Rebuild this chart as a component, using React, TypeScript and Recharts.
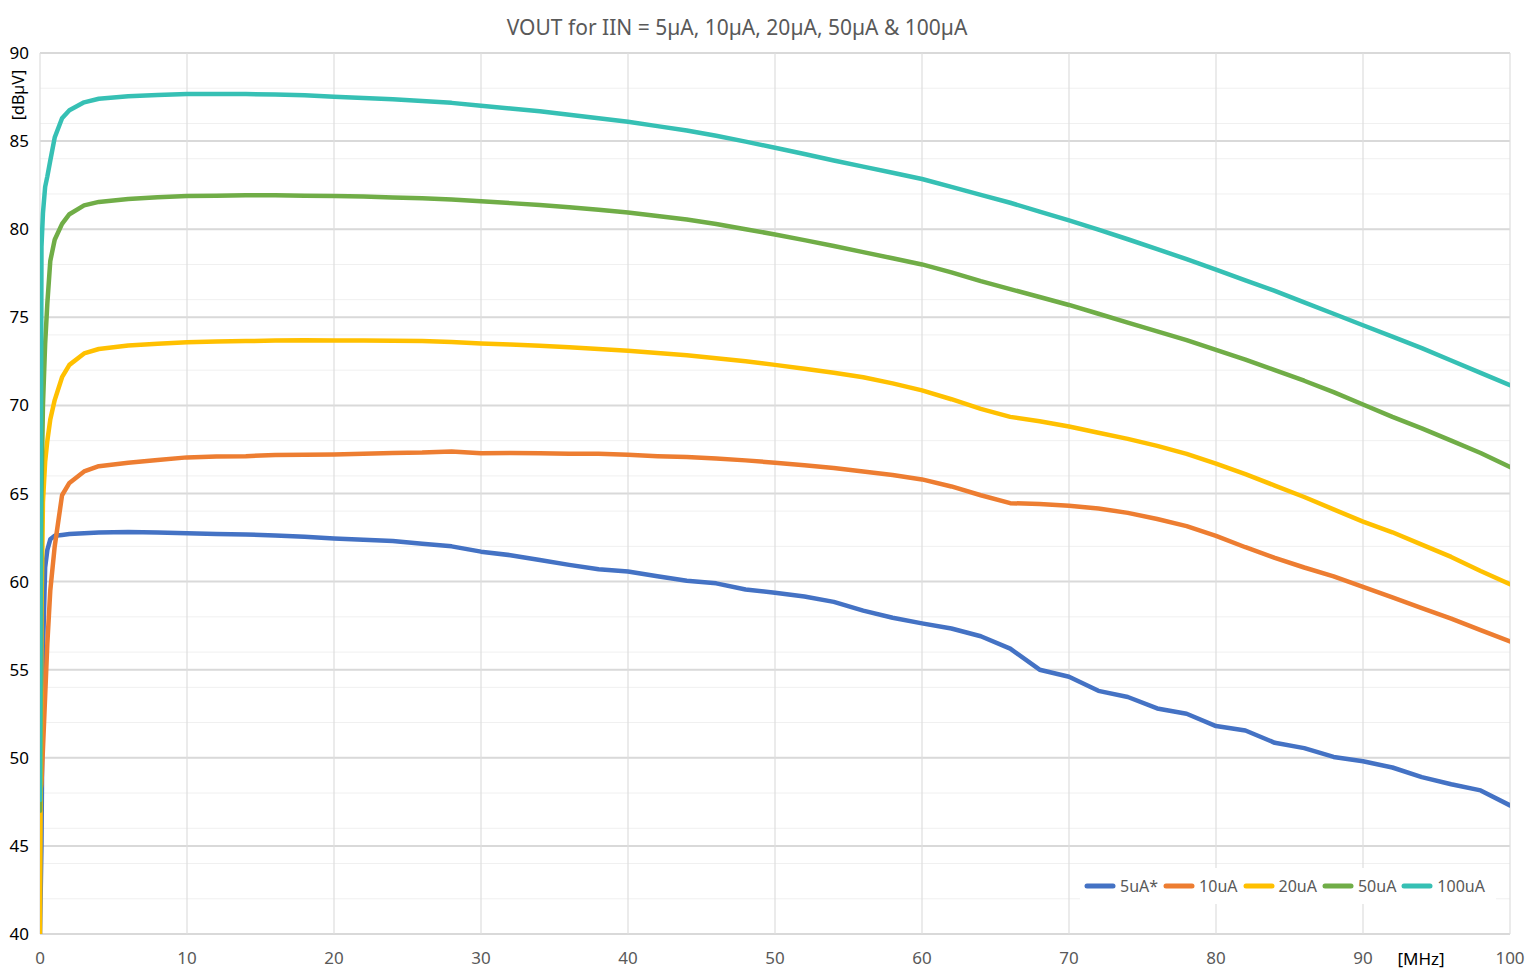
import React from "react";
import {
  CartesianGrid,
  Line,
  LineChart,
  XAxis,
  YAxis,
} from "recharts";

// frequency points [MHz]
const FREQ = [
  0, 0.1, 0.2, 0.35, 0.5, 0.7, 1, 1.5, 2, 3, 4, 6, 8,
  10, 12, 14, 16, 18, 20, 22, 24, 26, 28, 30, 32, 34, 36, 38, 40, 42, 44, 46, 48,
  50, 52, 54, 56, 58, 60, 62, 64, 66, 68, 70, 72, 74, 76, 78, 80, 82, 84, 86, 88,
  90, 92, 94, 96, 98, 100,
];

// VOUT [dBµV] per input current
const UA5 = [
  40, 45, 56, 60.8, 61.8, 62.4, 62.6, 62.65, 62.7, 62.75, 62.78, 62.82, 62.78,
  62.75, 62.7, 62.68, 62.62, 62.55, 62.45, 62.38, 62.3, 62.15, 62.0, 61.7, 61.5, 61.23, 60.95, 60.7,
  60.57, 60.3, 60.05, 59.9, 59.55, 59.37, 59.15, 58.85, 58.35, 57.95, 57.63, 57.34, 56.9, 56.2, 55.0,
  54.6, 53.8, 53.45, 52.8, 52.5, 51.8, 51.55, 50.85, 50.55, 50.05, 49.8, 49.45, 48.9, 48.5, 48.15, 47.3,
];
const UA10 = [
  48.0, 48.5, 50.5, 53.5, 56.5, 59.5, 62.0, 64.9, 65.6, 66.25, 66.55, 66.75, 66.9,
  67.05, 67.1, 67.12, 67.18, 67.2, 67.22, 67.25, 67.3, 67.32, 67.38, 67.28, 67.3, 67.28, 67.25, 67.25,
  67.2, 67.12, 67.07, 66.98, 66.88, 66.75, 66.6, 66.45, 66.25, 66.05, 65.8, 65.4, 64.9, 64.45, 64.4,
  64.3, 64.15, 63.9, 63.55, 63.15, 62.6, 61.95, 61.35, 60.8, 60.3, 59.7, 59.1, 58.5, 57.9, 57.25, 56.6,
];
const UA20 = [
  40, 58, 64.5, 66.8, 68.0, 69.2, 70.3, 71.6, 72.3, 72.95, 73.2, 73.4, 73.5,
  73.58, 73.62, 73.65, 73.68, 73.7, 73.68, 73.68, 73.67, 73.65, 73.6, 73.52, 73.45, 73.38, 73.3, 73.2,
  73.1, 72.98, 72.85, 72.68, 72.5, 72.3, 72.08, 71.85, 71.6, 71.25, 70.85, 70.35, 69.8, 69.35, 69.1,
  68.8, 68.45, 68.1, 67.7, 67.25, 66.7, 66.1, 65.45, 64.8, 64.1, 63.4, 62.8, 62.1, 61.4, 60.6, 59.85,
];
const UA50 = [
  47.0, 65.0, 70.0, 73.5, 75.8, 78.2, 79.4, 80.3, 80.85, 81.35, 81.55, 81.72, 81.82,
  81.88, 81.9, 81.92, 81.93, 81.9, 81.88, 81.85, 81.8, 81.75, 81.68, 81.58, 81.48, 81.38, 81.25, 81.1,
  80.95, 80.75, 80.55, 80.3, 80.0, 79.7, 79.38, 79.05, 78.7, 78.35, 78.0, 77.55, 77.05, 76.6, 76.15,
  75.7, 75.2, 74.7, 74.2, 73.7, 73.15, 72.6, 72.0, 71.4, 70.75, 70.05, 69.35, 68.7, 68.0, 67.3, 66.5,
];
const UA100 = [
  47.6, 79.0, 80.9, 82.4, 83.0, 83.9, 85.2, 86.3, 86.75, 87.2, 87.4, 87.55, 87.62,
  87.67, 87.68, 87.67, 87.65, 87.6, 87.52, 87.45, 87.37, 87.28, 87.17, 87.0, 86.85, 86.7, 86.5, 86.3,
  86.1, 85.85, 85.6, 85.3, 84.97, 84.62, 84.27, 83.9, 83.55, 83.2, 82.85, 82.4, 81.95, 81.5, 81.0,
  80.5, 79.97, 79.43, 78.87, 78.3, 77.7, 77.1, 76.5, 75.85, 75.2, 74.55, 73.9, 73.25, 72.55, 71.85, 71.15,
];

const SERIES = [
  { key: "ua5", name: "5uA*", values: UA5, color: "#4472C4" },
  { key: "ua10", name: "10uA", values: UA10, color: "#ED7D31" },
  { key: "ua20", name: "20uA", values: UA20, color: "#FFC000" },
  { key: "ua50", name: "50uA", values: UA50, color: "#70AD47" },
  { key: "ua100", name: "100uA", values: UA100, color: "#36C0B4" },
];

const X_TICKS = [0, 10, 20, 30, 40, 50, 60, 70, 80, 90, 100];
const Y_TICKS = [40, 45, 50, 55, 60, 65, 70, 75, 80, 85, 90];
const Y_MINOR = [
  40, 41, 42, 43, 44, 45, 46, 47, 48, 49, 50, 51, 52, 53, 54, 55, 56, 57, 58, 59, 60,
  61, 62, 63, 64, 65, 66, 67, 68, 69, 70, 71, 72, 73, 74, 75, 76, 77, 78, 79, 80,
  81, 82, 83, 84, 85, 86, 87, 88, 89, 90,
];

const rows = FREQ.map((f, i) => {
  const row: Record<string, number> = { f };
  SERIES.forEach((s) => {
    row[s.key] = s.values[i];
  });
  return row;
});

const FONT = "'Noto Sans', 'Open Sans', sans-serif";

function ChartLegend() {
  return (
    <div
      style={{
        position: "absolute",
        left: 1080,
        top: 868,
        height: 36,
        display: "flex",
        alignItems: "center",
        background: "#fff",
        padding: "0 6px 0 4px",
        fontSize: 16,
        color: "#595959",
      }}
    >
      {SERIES.map((s) => (
        <div key={s.key} style={{ display: "flex", alignItems: "center", marginRight: 5 }}>
          <svg width={32} height={8} style={{ marginRight: 4 }}>
            <line x1={3} y1={4} x2={29} y2={4} stroke={s.color} strokeWidth={5} strokeLinecap="round" />
          </svg>
          <span>{s.name}</span>
        </div>
      ))}
    </div>
  );
}

export default function App() {
  return (
    <div style={{ position: "absolute", left: 0, top: 0, width: 1529, height: 980, background: "#fff", fontFamily: FONT }}>
      <LineChart width={1529} height={980} data={rows} margin={{ top: 53, right: 19, left: 0, bottom: 0 }}>
        <CartesianGrid stroke="#f0f0f0" vertical={false} yAxisId="minor" />
        <CartesianGrid stroke="#d9d9d9" strokeWidth={2} vertical={false} />
        <CartesianGrid stroke="#dedede" strokeWidth={1.2} horizontal={false} />
        <XAxis
          dataKey="f"
          type="number"
          domain={[0, 100]}
          ticks={X_TICKS}
          allowDataOverflow
          height={46}
          axisLine={false}
          tickLine={false}
          tickSize={0}
          tickMargin={18}
          tick={{ fill: "#595959", fontSize: 17, fontFamily: FONT }}
        />
        <YAxis
          type="number"
          domain={[40, 90]}
          ticks={Y_TICKS}
          allowDataOverflow
          width={40}
          axisLine={false}
          tickLine={false}
          tickSize={0}
          tickMargin={11}
          tick={{ fill: "#000", fontSize: 17, fontFamily: FONT }}
        />
        <YAxis yAxisId="minor" hide type="number" domain={[40, 90]} ticks={Y_MINOR} allowDataOverflow />
        {SERIES.map((s) => (
          <Line
            key={s.key}
            dataKey={s.key}
            name={s.name}
            stroke={s.color}
            strokeWidth={4.5}
            strokeLinecap="round"
            strokeLinejoin="round"
            dot={false}
            type="linear"
            isAnimationActive={false}
          />
        ))}
      </LineChart>
      <ChartLegend />
      <div
        style={{
          position: "absolute",
          left: 737,
          top: 15,
          transform: "translateX(-50%)",
          whiteSpace: "nowrap",
          fontSize: 21,
          lineHeight: "24px",
          color: "#595959",
        }}
      >
        VOUT for IIN = 5µA, 10µA, 20µA, 50µA &amp; 100µA
      </div>
      <div
        style={{
          position: "absolute",
          left: 18,
          top: 95,
          transform: "translate(-50%, -50%) rotate(-90deg)",
          whiteSpace: "nowrap",
          fontSize: 16,
          color: "#000",
        }}
      >
        [dBµV]
      </div>
      <div
        style={{
          position: "absolute",
          left: 1421,
          top: 958,
          transform: "translate(-50%, -50%)",
          whiteSpace: "nowrap",
          fontSize: 17,
          color: "#000",
        }}
      >
        [MHz]
      </div>
    </div>
  );
}
